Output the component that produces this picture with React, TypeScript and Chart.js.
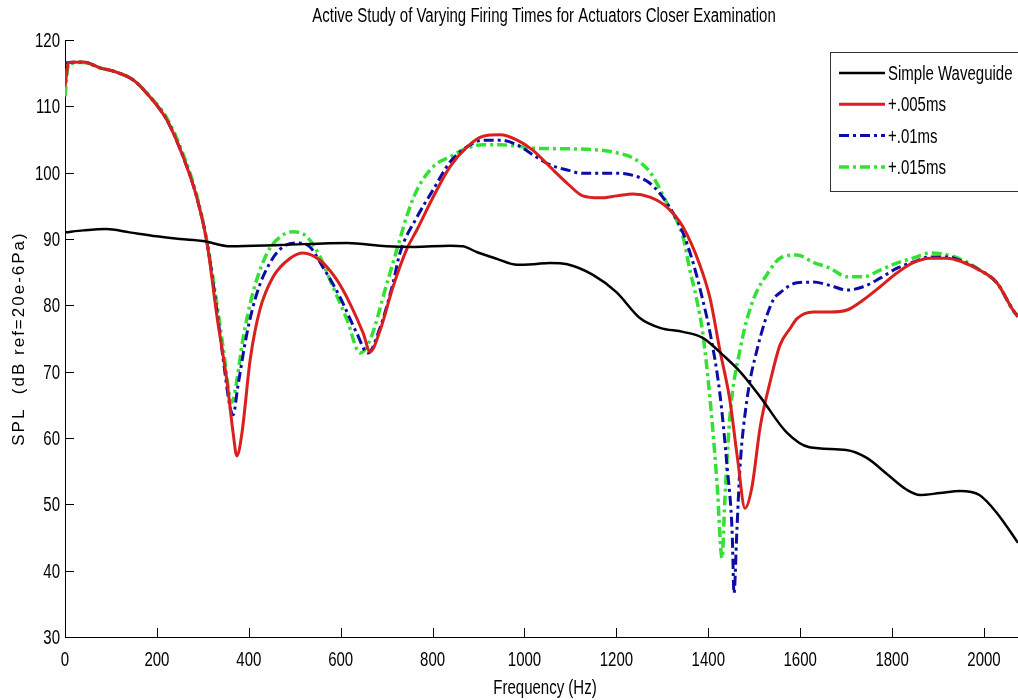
import React, { useEffect, useRef } from 'react';
import { Chart, registerables } from 'chart.js';

Chart.register(...registerables);

const TITLE = 'Active Study of Varying Firing Times for Actuators Closer Examination';
const X_TITLE = 'Frequency (Hz)';
const Y_TITLE = 'SPL  (dB ref=20e-6Pa)';
const SERIES_LABELS = ['Simple Waveguide', '+.005ms', '+.01ms', '+.015ms'];
const X_MIN = 0;
const X_MAX = 2074;
const X_STEP = 200;
const Y_MIN = 30;
const Y_MAX = 120;
const Y_STEP = 10;

// Simple Waveguide
const waveguideFreq = [0, 40, 90, 140, 200, 250, 300, 360, 470, 614, 700, 760, 838, 866, 897, 940, 984, 1020, 1055, 1093, 1149, 1200, 1251, 1295, 1345, 1388, 1432, 1469, 1513, 1571, 1620, 1700, 1745, 1790, 1832, 1861, 1904, 1948, 1990, 2028, 2074];
const waveguideSpl = [91.0, 91.3, 91.5, 91.0, 90.4, 90.0, 89.7, 88.9, 89.1, 89.4, 88.9, 88.8, 89.0, 88.9, 88.0, 87.0, 86.1, 86.2, 86.4, 86.2, 84.6, 82.0, 78.1, 76.6, 76.0, 75.1, 72.5, 70.0, 66.2, 60.8, 58.6, 58.2, 57.0, 54.5, 52.2, 51.4, 51.7, 52.0, 51.4, 48.7, 44.2];

// +.005ms
const ms005Freq = [0, 8, 40, 76, 110, 148, 185, 222, 257, 287, 309, 331, 353, 366, 374, 385, 403, 424, 453, 490, 518, 555, 592, 620, 649, 664, 686, 714, 744, 766, 801, 838, 875, 910, 947, 984, 1018, 1055, 1093, 1127, 1164, 1201, 1236, 1273, 1310, 1345, 1382, 1404, 1425, 1447, 1464, 1480, 1495, 1513, 1534, 1556, 1578, 1593, 1628, 1665, 1702, 1737, 1774, 1811, 1845, 1883, 1920, 1954, 1991, 2028, 2063, 2074];
const ms005Spl = [113.0, 116.6, 116.7, 115.8, 115.2, 114.0, 111.4, 107.9, 102.4, 96.2, 89.4, 78.2, 68.3, 60.7, 57.3, 60.7, 71.8, 79.3, 84.3, 87.1, 87.9, 86.8, 83.8, 80.3, 75.8, 73.0, 76.3, 82.8, 88.5, 91.4, 96.3, 100.9, 103.9, 105.5, 105.7, 104.9, 103.4, 100.9, 98.4, 96.5, 96.2, 96.5, 96.8, 96.3, 94.8, 91.8, 86.0, 81.0, 73.3, 65.7, 56.7, 49.4, 52.6, 61.7, 68.3, 74.0, 76.5, 78.0, 79.0, 79.0, 79.3, 80.8, 82.8, 84.9, 86.4, 87.1, 87.1, 86.5, 85.3, 83.4, 79.3, 78.3];

// +.01ms
const ms01Freq = [0, 8, 40, 76, 110, 148, 185, 222, 257, 287, 309, 331, 345, 359, 366, 376, 396, 418, 446, 474, 505, 533, 561, 598, 635, 659, 686, 714, 729, 766, 801, 838, 875, 910, 947, 984, 1018, 1055, 1093, 1127, 1164, 1201, 1236, 1273, 1310, 1345, 1367, 1388, 1404, 1425, 1441, 1452, 1456, 1462, 1469, 1484, 1506, 1541, 1556, 1593, 1628, 1665, 1702, 1737, 1774, 1811, 1845, 1883, 1920, 1954, 1991, 2028, 2063, 2074];
const ms01Spl = [116.5, 116.6, 116.7, 115.8, 115.2, 114.0, 111.4, 107.9, 102.4, 96.2, 89.5, 79.0, 71.5, 64.7, 63.5, 67.7, 75.8, 81.9, 86.4, 88.8, 89.4, 88.8, 85.8, 81.3, 75.8, 72.8, 76.7, 83.4, 87.9, 93.3, 97.4, 101.6, 103.9, 104.9, 104.9, 104.2, 102.7, 101.2, 100.4, 99.9, 99.9, 99.9, 99.6, 98.4, 95.4, 90.9, 86.4, 80.8, 75.8, 66.8, 55.6, 45.7, 36.6, 45.7, 55.6, 65.7, 73.3, 80.8, 81.9, 83.4, 83.5, 83.0, 82.3, 82.8, 84.1, 85.6, 86.5, 87.3, 87.3, 86.6, 85.3, 83.4, 79.3, 78.3];

// +.015ms
const ms015Freq = [0, 8, 40, 76, 110, 148, 185, 222, 257, 287, 309, 331, 344, 363, 374, 387, 409, 440, 468, 496, 527, 555, 583, 614, 642, 664, 701, 729, 744, 766, 801, 838, 875, 910, 947, 984, 1018, 1093, 1164, 1201, 1236, 1273, 1310, 1345, 1360, 1375, 1388, 1404, 1419, 1430, 1436, 1447, 1469, 1495, 1534, 1556, 1593, 1628, 1665, 1702, 1737, 1774, 1811, 1845, 1883, 1920, 1954, 1991, 2028, 2063, 2074];
const ms015Spl = [111.5, 116.4, 116.6, 115.8, 115.2, 114.0, 111.5, 108.2, 102.8, 96.5, 89.6, 80.0, 73.7, 65.4, 68.7, 74.8, 81.9, 87.9, 90.3, 91.1, 90.3, 87.3, 82.8, 77.8, 72.8, 74.8, 83.4, 90.0, 93.5, 97.4, 100.9, 102.4, 103.7, 104.2, 104.2, 104.0, 103.7, 103.6, 103.4, 103.0, 102.2, 100.1, 95.4, 90.3, 85.3, 80.8, 75.8, 65.7, 53.2, 41.9, 50.6, 63.2, 73.3, 80.3, 85.3, 87.1, 87.6, 86.5, 85.6, 84.3, 84.3, 85.3, 86.4, 87.1, 87.9, 87.6, 86.8, 85.3, 83.4, 79.3, 78.3];

const FAMILY = "'Liberation Sans', Arial, sans-serif";
const TEXT_SIZE = 20;
const NARROW_SCALE = 0.75;

const toPoints = (xs: number[], ys: number[]) => xs.map((x, i) => ({ x, y: ys[i] }));

function narrowText(ctx: CanvasRenderingContext2D, text: string, x: number, y: number, align: CanvasTextAlign) {
  ctx.save();
  ctx.translate(x, y);
  ctx.scale(NARROW_SCALE, 1);
  ctx.font = `${TEXT_SIZE}px ${FAMILY}`;
  ctx.textAlign = align;
  ctx.textBaseline = 'alphabetic';
  ctx.fillStyle = '#000';
  ctx.fillText(text, 0, 0);
  ctx.restore();
}

const decorPlugin = {
  id: 'decor',
  afterDraw(chart: any) {
    const { ctx, chartArea, scales } = chart;
    const xs = scales.x;
    const ys = scales.y;
    const capHalf = TEXT_SIZE * 0.716 / 2;
    ctx.save();
    // inward tick marks
    ctx.strokeStyle = '#000';
    ctx.lineWidth = 1;
    ctx.setLineDash([]);
    ctx.beginPath();
    for (const t of xs.ticks) {
      const px = Math.round(xs.getPixelForValue(t.value)) + 0.5;
      ctx.moveTo(px, chartArea.bottom);
      ctx.lineTo(px, chartArea.bottom - 9);
    }
    for (const t of ys.ticks) {
      const py = Math.round(ys.getPixelForValue(t.value)) + 0.5;
      ctx.moveTo(chartArea.left, py);
      ctx.lineTo(chartArea.left + 9, py);
    }
    ctx.stroke();

    // tick labels
    for (const t of xs.ticks) {
      narrowText(ctx, String(t.value), xs.getPixelForValue(t.value), chartArea.bottom + 29, 'center');
    }
    for (const t of ys.ticks) {
      narrowText(ctx, String(t.value), chartArea.left - 5, ys.getPixelForValue(t.value) + capHalf, 'right');
    }

    // titles
    narrowText(ctx, TITLE, 544, 21.5, 'center');
    narrowText(ctx, X_TITLE, 545, 694, 'center');

    ctx.save();
    ctx.translate(19, (chartArea.top + chartArea.bottom) / 2);
    ctx.rotate(-Math.PI / 2);
    ctx.font = `17px ${FAMILY}`;
    (ctx as any).letterSpacing = '2px';
    ctx.textAlign = 'center';
    ctx.textBaseline = 'middle';
    ctx.fillStyle = '#000';
    ctx.fillText(Y_TITLE, 0, 0);
    ctx.restore();

    // legend box
    const bx = 830.5;
    const by = 52.5;
    const bw = 220;
    const bh = 139;
    ctx.fillStyle = '#fff';
    ctx.fillRect(bx, by, bw, bh);
    ctx.strokeStyle = '#333';
    ctx.lineWidth = 1;
    ctx.strokeRect(bx, by, bw, bh);
    chart.data.datasets.forEach((ds: any, i: number) => {
      const y = 73 + i * 31.3;
      ctx.beginPath();
      ctx.strokeStyle = ds.borderColor;
      ctx.lineWidth = ds.borderWidth;
      ctx.setLineDash(ds.borderDash || []);
      ctx.moveTo(839, y);
      ctx.lineTo(885, y);
      ctx.stroke();
      ctx.setLineDash([]);
      narrowText(ctx, ds.label, 888, y + capHalf, 'left');
    });
    ctx.restore();
  },
};

export default function App() {
  const canvasRef = useRef<HTMLCanvasElement | null>(null);

  useEffect(() => {
    const canvas = canvasRef.current;
    if (!canvas) return;
    const dash = [10, 4, 3, 4];
    const chart = new Chart(canvas, {
      type: 'line',
      data: {
        datasets: [
          {
            label: SERIES_LABELS[0],
            data: toPoints(waveguideFreq, waveguideSpl),
            borderColor: '#000000',
            borderWidth: 2.5,
            borderDash: [],
          },
          {
            label: SERIES_LABELS[1],
            data: toPoints(ms005Freq, ms005Spl),
            borderColor: '#da1f1f',
            borderWidth: 3,
            borderDash: [],
          },
          {
            label: SERIES_LABELS[2],
            data: toPoints(ms01Freq, ms01Spl),
            borderColor: '#0c0ca8',
            borderWidth: 3,
            borderDash: dash,
          },
          {
            label: SERIES_LABELS[3],
            data: toPoints(ms015Freq, ms015Spl),
            borderColor: '#33e033',
            borderWidth: 3.5,
            borderDash: dash,
          },
        ] as any,
      },
      options: {
        responsive: false,
        animation: false,
        devicePixelRatio: 1,
        layout: { padding: { top: 40, right: 0, left: 0, bottom: 0 } },
        elements: {
          point: { radius: 0, hoverRadius: 0 },
          line: { cubicInterpolationMode: 'monotone', fill: false },
        },
        plugins: {
          legend: { display: false },
          title: { display: false },
          tooltip: { enabled: false },
        },
        scales: {
          x: {
            type: 'linear',
            min: X_MIN,
            max: X_MAX,
            grid: { display: false, drawTicks: false },
            border: { display: true, color: '#000', width: 1 },
            ticks: { stepSize: X_STEP, includeBounds: false, display: false, autoSkip: false },
            title: { display: false },
            afterFit: (scale: any) => {
              scale.height = 63;
            },
          },
          y: {
            type: 'linear',
            min: Y_MIN,
            max: Y_MAX,
            grid: { display: false, drawTicks: false },
            border: { display: true, color: '#000', width: 1 },
            ticks: { stepSize: Y_STEP, includeBounds: false, display: false },
            title: { display: false },
            afterFit: (scale: any) => {
              scale.width = 65;
            },
          },
        },
      } as any,
      plugins: [decorPlugin],
    });
    return () => chart.destroy();
  }, []);

  return (
    <div style={{ position: 'fixed', left: 0, top: 0, width: 1018, height: 700, background: '#fff' }}>
      <canvas ref={canvasRef} width={1018} height={700} style={{ display: 'block' }} />
    </div>
  );
}
